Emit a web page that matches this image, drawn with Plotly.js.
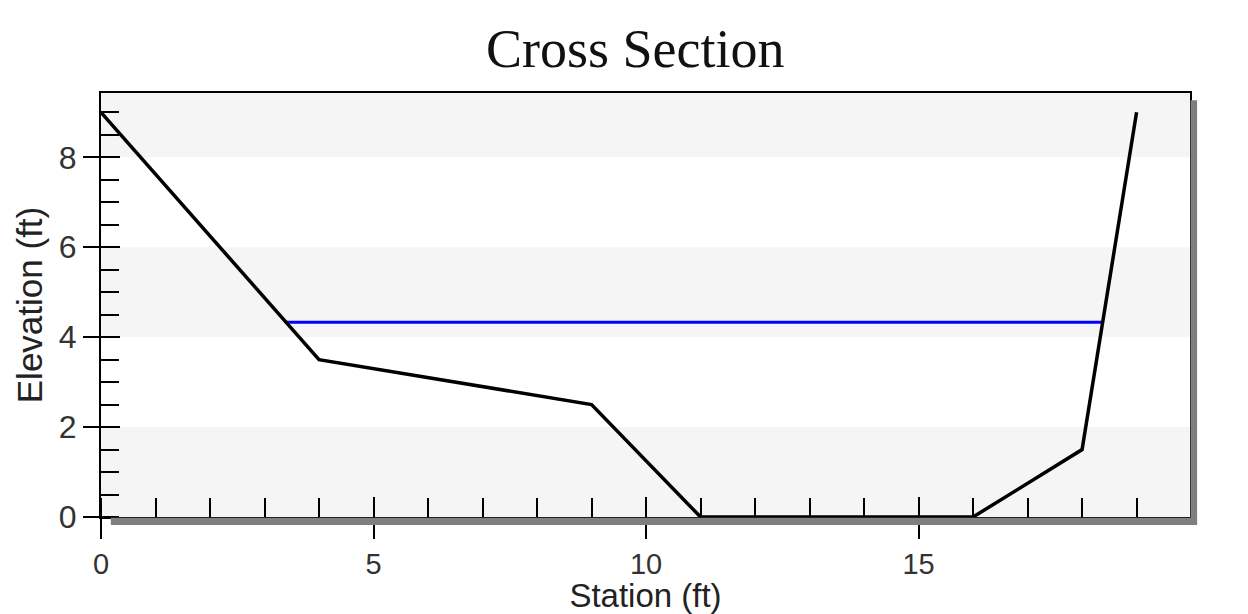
<!DOCTYPE html>
<html>
<head>
<meta charset="utf-8">
<script src="https://cdn.plot.ly/plotly-3.0.1.min.js"></script>
<style>html,body{margin:0;padding:0;background:#fff;}#chart{width:1248px;height:614px;}</style>
</head>
<body>
<div id="chart"></div>
<script>
// Ground profile (station, elevation)
const station = [0, 4, 9, 11, 16, 18, 19];
const elevation = [9, 3.5, 2.5, 0, 0, 1.5, 9];
// Water surface
const wsStation = [3.4, 18.38];
const wsElevation = [4.33, 4.33];
// Axis settings
const xRange = [0, 19.98];
const yRange = [0, 9.43];
const bandEdges = [[0, 2], [4, 6], [8, 9.43]];

const traces = [
  {x: wsStation, y: wsElevation, mode: 'lines', line: {color: '#0000ff', width: 3}, hoverinfo: 'skip', showlegend: false},
  {x: station, y: elevation, mode: 'lines', line: {color: '#000000', width: 3.5}, hoverinfo: 'skip', showlegend: false},
  {x: station, y: elevation, xaxis: 'x2', yaxis: 'y2', mode: 'lines', line: {color: 'rgba(0,0,0,0)', width: 0}, hoverinfo: 'skip', showlegend: false}
];

const shapes = bandEdges.map(b => ({type: 'rect', xref: 'paper', yref: 'y', x0: 0, x1: 1, y0: b[0], y1: b[1], fillcolor: '#f5f5f5', line: {width: 0}, layer: 'below'}));
// drop shadow
shapes.push({type: 'rect', xref: 'paper', yref: 'paper', x0: 1.0005, x1: 1.0065, y0: -0.019, y1: 0.983, fillcolor: '#7f7f7f', line: {width: 0}, layer: 'above'});
shapes.push({type: 'rect', xref: 'paper', yref: 'paper', x0: 0.009, x1: 1.0065, y0: -0.019, y1: -0.002, fillcolor: '#7f7f7f', line: {width: 0}, layer: 'above'});

const xTickFont = {family: 'Liberation Sans, Arial, sans-serif', size: 29, color: '#333333'};
const yTickFont = {family: 'Liberation Sans, Arial, sans-serif', size: 32, color: '#333333'};
const titleFont = {family: 'Liberation Sans, Arial, sans-serif', size: 33, color: '#222222'};

const layout = {
  width: 1248, height: 614,
  margin: {l: 101, r: 58, t: 93, b: 97},
  paper_bgcolor: '#ffffff', plot_bgcolor: '#ffffff',
  title: {text: 'Cross Section', font: {family: 'Liberation Serif, Times New Roman, serif', size: 54, color: '#111111'}, x: 0.509, xanchor: 'center', y: 0.922, yanchor: 'middle'},
  xaxis: {
    range: xRange, showgrid: false, zeroline: false,
    showline: true, linecolor: '#000', linewidth: 2, mirror: true,
    dtick: 5, tick0: 0, ticks: 'outside', ticklen: 20, tickwidth: 2, tickcolor: '#000',
    minor: {dtick: 1, ticks: 'inside', ticklen: 19, tickwidth: 2, tickcolor: '#000', showgrid: false},
    tickfont: xTickFont,
    title: {text: 'Station (ft)', font: titleFont, standoff: 3}
  },
  yaxis: {
    range: yRange, showgrid: false, zeroline: false,
    showline: true, linecolor: '#000', linewidth: 2, mirror: true,
    dtick: 2, tick0: 0, ticks: 'outside', ticklen: 16, tickwidth: 2, tickcolor: '#000',
    minor: {dtick: 0.5, ticks: 'inside', ticklen: 18, tickwidth: 2, tickcolor: '#000', showgrid: false},
    tickfont: yTickFont,
    title: {text: 'Elevation (ft)', font: {family: 'Liberation Sans, Arial, sans-serif', size: 35, color: '#222222'}, standoff: 6}
  },
  xaxis2: {overlaying: 'x', anchor: 'y2', side: 'bottom', range: xRange, showgrid: false, zeroline: false, showline: false,
    dtick: 5, tick0: 0, ticks: 'inside', ticklen: 20, tickwidth: 2, tickcolor: '#000', showticklabels: false},
  yaxis2: {overlaying: 'y', anchor: 'x2', side: 'left', range: yRange, showgrid: false, zeroline: false, showline: false,
    dtick: 2, tick0: 0, ticks: 'inside', ticklen: 19, tickwidth: 2, tickcolor: '#000', showticklabels: false},
  shapes: shapes,
  showlegend: false
};

Plotly.newPlot('chart', traces, layout, {displayModeBar: false, staticPlot: true});
</script>
</body>
</html>
